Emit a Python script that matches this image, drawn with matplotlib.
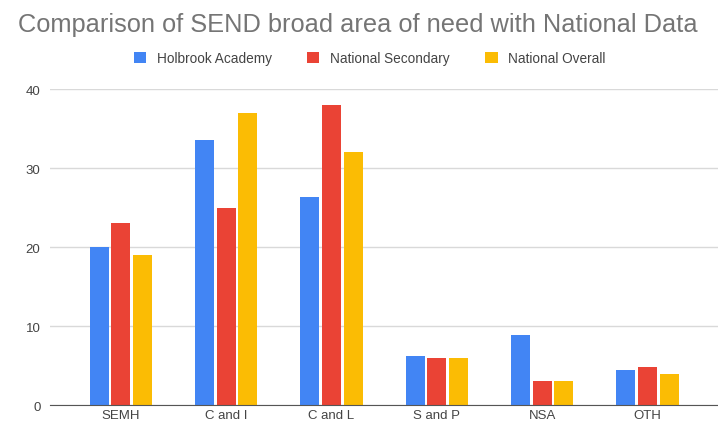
import matplotlib
matplotlib.use('Agg')
import matplotlib.pyplot as plt
import numpy as np

plt.rcParams['font.family'] = ['Liberation Sans', 'DejaVu Sans']

categories = ['SEMH', 'C and I', 'C and L', 'S and P', 'NSA', 'OTH']
holbrook = [20, 33.5, 26.4, 6.2, 8.9, 4.4]
nat_secondary = [23, 25, 38, 6, 3, 4.8]
nat_overall = [19, 37, 32, 6, 3, 3.9]
series_names = ['Holbrook Academy', 'National Secondary', 'National Overall']
colors = ['#4285F4', '#EA4335', '#FBBC04']

fig = plt.figure(figsize=(7.18, 4.27), dpi=100)
ax = fig.add_axes([0.07, 0.049, 0.93, 0.74])

x = np.arange(len(categories))
w = 0.18
step = 0.205
for i, (vals, name, c) in enumerate(zip([holbrook, nat_secondary, nat_overall], series_names, colors)):
    ax.bar(x + (i - 1) * step, vals, w, color=c, label=name, zorder=3)

ax.set_ylim(0, 40)
ax.set_xlim(-0.67, 5.67)
ax.set_yticks([0, 10, 20, 30, 40])
ax.set_xticks(x)
ax.set_xticklabels(categories)
ax.grid(axis='y', color='#d9d9d9', linewidth=1, zorder=0)
for s in ['top', 'right', 'left']:
    ax.spines[s].set_visible(False)
ax.spines['bottom'].set_color('#555555')
ax.spines['bottom'].set_zorder(4)
ax.tick_params(axis='both', length=0, colors='#444444', labelsize=9.5)
ax.tick_params(axis='y', pad=7)
ax.tick_params(axis='x', pad=3)

fig.text(0.025, 0.942, 'Comparison of SEND broad area of need with National Data',
         fontsize=18.3, color='#757575', va='center', ha='left')
fig.legend(loc='center', bbox_to_anchor=(0.515, 0.862), ncol=3, frameon=False,
           fontsize=9.8, handlelength=0.9, handleheight=0.9, columnspacing=2.6,
           handletextpad=0.8, labelcolor='#444444')

fig.savefig('out.png', dpi=100)
